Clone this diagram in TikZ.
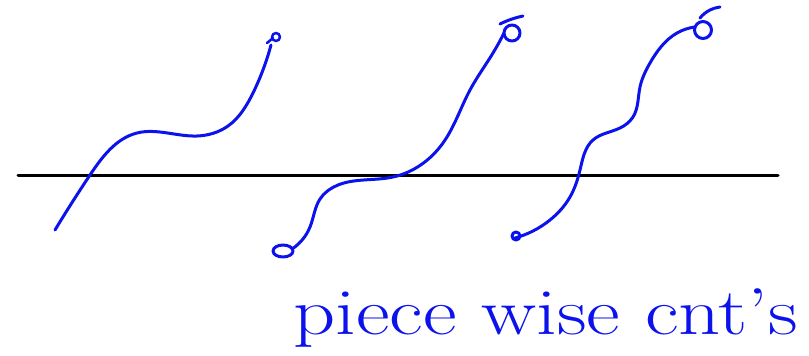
\documentclass[tikz,border=0pt]{standalone}
\usepackage{tikz}
\usetikzlibrary{hobby}
\definecolor{inkBlue}{RGB}{12, 18, 235}

\begin{document}
\begin{tikzpicture}[x=1pt, y=-1pt, line cap=round, line join=round]
    \useasboundingbox (0,0) rectangle (809,356);
    % axis
    \coordinate (L) at (18,175);
    \coordinate (R) at (778,175);
    \draw[line width=3pt] (L) -- (R);
    % first curve
    \draw[inkBlue, line width=3pt, use Hobby shortcut]
        (55,230) .. (90,175) .. (137,133) .. (197,136) .. (228,126) .. (253,93) .. (271,45);
    \draw[inkBlue, line width=2.5pt] (276,37) circle (4);
    \draw[inkBlue, line width=2.5pt] (267,43) -- (273,38);
    % second curve
    \draw[inkBlue, line width=3pt, use Hobby shortcut]
        (292,249) .. (310,227) .. (320,199) .. (338,185) .. (393,177) .. (443,143) .. (470,90) .. (493,53) .. (504,33);
    \draw[inkBlue, line width=3pt] (283,251) ellipse (10 and 6);
    \draw[inkBlue, line width=3pt] (512,33) circle (8);
    \draw[inkBlue, line width=3pt, use Hobby shortcut] (500,24) .. (512,19) .. (523,16);
    % third curve
    \draw[inkBlue, line width=3pt, use Hobby shortcut]
        (515,238) .. (550,220) .. (570,197) .. (580,170) .. (593,140) .. (620,128) .. (633,117) .. (640,87) .. (650,63) .. (677,33) .. (695,27);
    \draw[inkBlue, line width=3pt] (516,236) circle (4);
    \draw[inkBlue, line width=3pt] (703,30) circle (8.5);
    \draw[inkBlue, line width=3pt, use Hobby shortcut] (700,18) .. (710,10) .. (720,7);
    % label
    \node[inkBlue, anchor=base west, inner sep=0pt, xscale=1.25, font=\fontsize{66}{66}\selectfont] (lbl) at (293,334) {piece wise cnt's};
\end{tikzpicture}
\end{document}
